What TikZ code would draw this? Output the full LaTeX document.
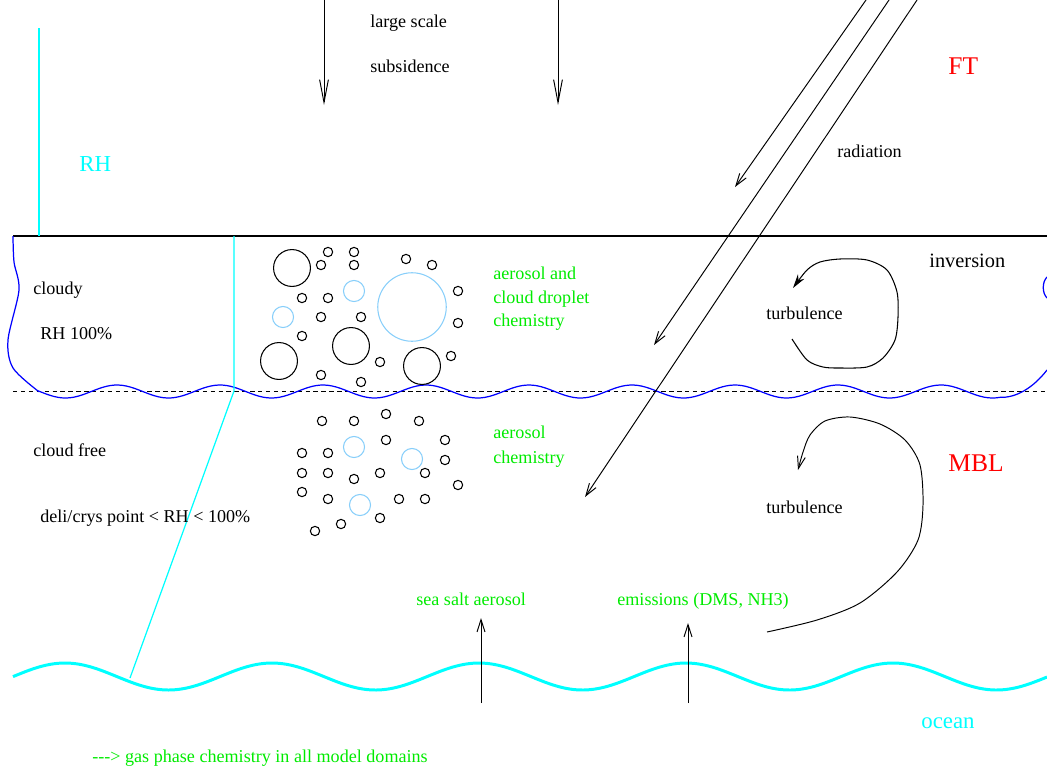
\documentclass[tikz,border=0pt]{standalone}
\usepackage{fontspec}
\setmainfont{Liberation Serif}
\usetikzlibrary{arrows.meta}
\definecolor{figcyan}{RGB}{0,255,255}
\definecolor{figblue}{RGB}{0,0,255}
\definecolor{figgreen}{RGB}{0,235,0}
\definecolor{figred}{RGB}{255,0,0}
\definecolor{dropblue}{RGB}{135,206,250}

\begin{document}
\begin{tikzpicture}[x=0.02cm,y=-0.02cm,
    txt/.style={anchor=base west,inner sep=0pt,font=\fontsize{10.3}{12}\selectfont},
    chem/.style={txt,text=figgreen},
    midtxt/.style={anchor=base west,inner sep=0pt,font=\fontsize{13}{15}\selectfont,text=figcyan},
    bigtxt/.style={anchor=base west,inner sep=0pt,font=\fontsize{14.5}{17}\selectfont,text=figred},
    drop/.style={draw,line width=0.6pt},
    bluedrop/.style={draw=dropblue,line width=0.6pt},
    rhline/.style={figcyan,line width=0.7pt},
    thinarrow/.style={line width=0.55pt,-{Straight Barb[length=7pt,width=4.5pt]}},
    sinkarrow/.style={line width=0.55pt,-{Straight Barb[length=13pt,width=5pt]}},
    cloudline/.style={figblue,line width=0.7pt}]
    \useasboundingbox (0,0) rectangle (1047,771);

    % Grenzen: Inversion, Wolkenunterkante, Ozean
    \draw[line width=1.7pt] (13,236) -- (1047,236);
    \draw[dashed,dash pattern=on 2.5pt off 2pt,line width=0.55pt] (13,391) -- (1047,391);
    \draw[cloudline] plot[smooth] coordinates {(13,236) (14,262) (19,290) (8,340) (13,368) (38,391)}
        -- plot[domain=38:1000,samples=240] (\x,{391.5-6.5*cos(3.4951*(\x-117))})
        .. controls (1016,398) and (1033,388) .. (1047,370);
    \draw[cloudline] (1047,277) .. controls (1042,282) and (1042,293) .. (1047,298);
    \draw[figcyan,line width=1.7pt] plot[domain=13:1047,samples=300] (\x,{676.5-13.5*cos(1.7391*(\x-65))});

    % RH-Linie
    \coordinate (rh0) at (39,28);
    \coordinate (rh1) at (39,236);
    \coordinate (rh2) at (234,236);
    \coordinate (rh3) at (234,391);
    \coordinate (rh4) at (130,678);
    \draw[rhline] (rh0) -- (rh1);
    \draw[rhline] (rh2) -- (rh3) -- (rh4);

    % Absinken
    \coordinate (s1a) at (324,0);
    \coordinate (s1b) at (324,105);
    \coordinate (s2a) at (558,0);
    \coordinate (s2b) at (558,105);
    \draw[sinkarrow] (s1a) -- (s1b);
    \draw[sinkarrow] (s2a) -- (s2b);

    % Strahlung
    \coordinate (r1a) at (866,0);
    \coordinate (r1b) at (735,187);
    \coordinate (r2a) at (889,0);
    \coordinate (r2b) at (654,345);
    \coordinate (r3a) at (917,0);
    \coordinate (r3b) at (585,497);
    \draw[thinarrow] (r1a) -- (r1b);
    \draw[thinarrow] (r2a) -- (r2b);
    \draw[thinarrow] (r3a) -- (r3b);

    % Turbulenz
    \draw[line width=0.6pt,-{Stealth[length=8pt,width=4.5pt]}] plot[smooth] coordinates {(792,339) (807,360) (823,367) (840,368) (867,367) (883,358) (895,340) (898,317) (897,292) (887,270) (867,260) (840,259) (820,262) (807,270) (793,288)};
    \draw[thinarrow] plot[smooth] coordinates {(767,632) (817,620) (860,603) (897,572) (918,540) (923,505) (920,465) (905,440) (880,424) (850,417) (825,421) (810,435) (803,452) (798,470)};

    % Emissionen
    \coordinate (e1a) at (481,703);
    \coordinate (e1b) at (481,618);
    \coordinate (e2a) at (688,703);
    \coordinate (e2b) at (688,623);
    \draw[thinarrow] (e1a) -- (e1b);
    \draw[thinarrow] (e2a) -- (e2b);

    % Tropfen in der Wolke
    \foreach \px/\py in {292/268, 279/361, 351/346, 422/366}
        \draw[drop] (\px,\py) circle[radius=10.5pt];
    \draw[bluedrop] (412,307) circle[radius=19.5pt];
    \foreach \px/\py in {354/291, 283/317, 354/447, 412/459, 360/505}
        \draw[bluedrop] (\px,\py) circle[radius=6pt];
    \foreach \px/\py in {328/252, 354/252, 321/265, 354/265, 406/259, 432/265, 302/298, 328/298,
                         458/291, 321/317, 361/317, 458/323, 302/336, 380/362, 451/356, 321/375, 361/382}
        \draw[drop] (\px,\py) circle[radius=2.65pt];
    % Aerosole unter der Wolke
    \foreach \px/\py in {322/421, 354/421, 386/414, 419/421, 386/440, 445/440, 302/453, 328/453,
                         445/460, 302/473, 328/473, 354/479, 380/473, 425/473, 458/485, 302/492,
                         328/499, 399/499, 425/499, 380/518, 341/524, 315/531}
        \draw[drop] (\px,\py) circle[radius=2.65pt];

    % Beschriftung
    \node[txt] (lscale) at (370,27) {large scale};
    \node[txt] (subs) at (370,72) {subsidence};
    \node[bigtxt] (ft) at (948,74) {FT};
    \node[txt] (rad) at (837,157) {radiation};
    \node[midtxt] (rhtop) at (79,171) {RH};
    \node[txt,font=\fontsize{11.6}{14}\selectfont] (inv) at (929,267) {inversion};
    \node[txt] (cloudy) at (33,294) {cloudy};
    \node[txt] (rhsat) at (40,339) {RH 100\%};
    \node[chem] (aqchem1) at (493,279) {aerosol and};
    \node[chem] (aqchem2) at (493,303) {cloud droplet};
    \node[chem] (aqchem3) at (493,326) {chemistry};
    \node[txt] (turbtop) at (766,319) {turbulence};
    \node[txt] (cfree) at (33,456) {cloud free};
    \node[chem] (aerchem1) at (493,438) {aerosol};
    \node[chem] (aerchem2) at (493,463) {chemistry};
    \node[bigtxt] (mbl) at (948,471) {MBL};
    \node[txt] (turbbot) at (766,513) {turbulence};
    \node[txt] (deli) at (40,522) {deli/crys point < RH < 100\%};
    \node[chem] (ssalt) at (416,605) {sea salt aerosol};
    \node[chem] (emis) at (617,605) {emissions (DMS, NH3)};
    \node[midtxt] (ocean) at (921,728) {ocean};
    \node[chem] (gas) at (92,762) {{-}{-}{-}> gas phase chemistry in all model domains};
\end{tikzpicture}
\end{document}
